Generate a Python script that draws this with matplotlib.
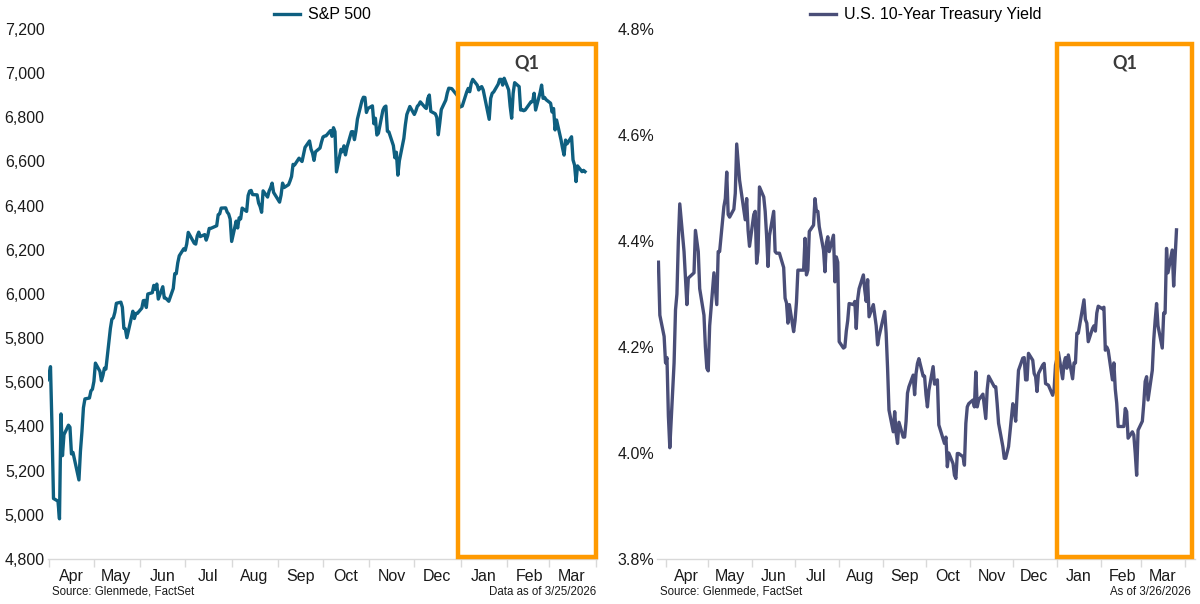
import matplotlib
matplotlib.use("Agg")
import matplotlib.pyplot as plt
import matplotlib.dates as mdates
import matplotlib.transforms as mtransforms
from matplotlib.patches import Rectangle
from matplotlib.ticker import FuncFormatter, MultipleLocator
import numpy as np

# S&P 500 closes
sp_dates = [
    "2025-03-31",
    "2025-04-01", "2025-04-02", "2025-04-03", "2025-04-04", "2025-04-07", "2025-04-08", "2025-04-09", "2025-04-10",
    "2025-04-11", "2025-04-14", "2025-04-15", "2025-04-16", "2025-04-17", "2025-04-21", "2025-04-22", "2025-04-23",
    "2025-04-24", "2025-04-25", "2025-04-28", "2025-04-29", "2025-04-30",
    "2025-05-01", "2025-05-02", "2025-05-05", "2025-05-06", "2025-05-07", "2025-05-08", "2025-05-09", "2025-05-12",
    "2025-05-13", "2025-05-14", "2025-05-15", "2025-05-16", "2025-05-19", "2025-05-20", "2025-05-21", "2025-05-22",
    "2025-05-23", "2025-05-27", "2025-05-28", "2025-05-29", "2025-05-30",
    "2025-06-02", "2025-06-03", "2025-06-04", "2025-06-05", "2025-06-06", "2025-06-09", "2025-06-10", "2025-06-11",
    "2025-06-12", "2025-06-13", "2025-06-16", "2025-06-17", "2025-06-18", "2025-06-20", "2025-06-23", "2025-06-24",
    "2025-06-25", "2025-06-26", "2025-06-27", "2025-06-30",
    "2025-07-01", "2025-07-02", "2025-07-03", "2025-07-07", "2025-07-08", "2025-07-09", "2025-07-10", "2025-07-11",
    "2025-07-14", "2025-07-15", "2025-07-16", "2025-07-17", "2025-07-18", "2025-07-21", "2025-07-22", "2025-07-23",
    "2025-07-24", "2025-07-25", "2025-07-28", "2025-07-29", "2025-07-30", "2025-07-31",
    "2025-08-01", "2025-08-04", "2025-08-05", "2025-08-06", "2025-08-07", "2025-08-08", "2025-08-11", "2025-08-12",
    "2025-08-13", "2025-08-14", "2025-08-15", "2025-08-18", "2025-08-19", "2025-08-20", "2025-08-21", "2025-08-22",
    "2025-08-25", "2025-08-26", "2025-08-27", "2025-08-28", "2025-08-29",
    "2025-09-02", "2025-09-03", "2025-09-04", "2025-09-05", "2025-09-08", "2025-09-09", "2025-09-10", "2025-09-11",
    "2025-09-12", "2025-09-15", "2025-09-16", "2025-09-17", "2025-09-18", "2025-09-19", "2025-09-22", "2025-09-23",
    "2025-09-24", "2025-09-25", "2025-09-26", "2025-09-29", "2025-09-30",
    "2025-10-01", "2025-10-02", "2025-10-03", "2025-10-06", "2025-10-07", "2025-10-08", "2025-10-09", "2025-10-10",
    "2025-10-13", "2025-10-14", "2025-10-15", "2025-10-16", "2025-10-17", "2025-10-20", "2025-10-21", "2025-10-22",
    "2025-10-23", "2025-10-24", "2025-10-27", "2025-10-28", "2025-10-29", "2025-10-30", "2025-10-31",
    "2025-11-03", "2025-11-04", "2025-11-05", "2025-11-06", "2025-11-07", "2025-11-10", "2025-11-11", "2025-11-12",
    "2025-11-13", "2025-11-14", "2025-11-17", "2025-11-18", "2025-11-19", "2025-11-20", "2025-11-21", "2025-11-24",
    "2025-11-25", "2025-11-26", "2025-11-28",
    "2025-12-01", "2025-12-02", "2025-12-03", "2025-12-04", "2025-12-05", "2025-12-08", "2025-12-09", "2025-12-10",
    "2025-12-11", "2025-12-12", "2025-12-15", "2025-12-16", "2025-12-17", "2025-12-18", "2025-12-19", "2025-12-22",
    "2025-12-23", "2025-12-24", "2025-12-26", "2025-12-29", "2025-12-30", "2025-12-31",
    "2026-01-02", "2026-01-05", "2026-01-06", "2026-01-07", "2026-01-08", "2026-01-09", "2026-01-12", "2026-01-13",
    "2026-01-14", "2026-01-15", "2026-01-16", "2026-01-20", "2026-01-21", "2026-01-22", "2026-01-23", "2026-01-26",
    "2026-01-27", "2026-01-28", "2026-01-29", "2026-01-30",
    "2026-02-02", "2026-02-03", "2026-02-04", "2026-02-05", "2026-02-06", "2026-02-09", "2026-02-10", "2026-02-11",
    "2026-02-12", "2026-02-13", "2026-02-17", "2026-02-18", "2026-02-19", "2026-02-20", "2026-02-23", "2026-02-24",
    "2026-02-25", "2026-02-26", "2026-02-27",
    "2026-03-02", "2026-03-03", "2026-03-04", "2026-03-05", "2026-03-06", "2026-03-09", "2026-03-10", "2026-03-11",
    "2026-03-12", "2026-03-13", "2026-03-16", "2026-03-17", "2026-03-18", "2026-03-19", "2026-03-20", "2026-03-23",
    "2026-03-24", "2026-03-25",
]
sp_values = [
    5612,
    5633, 5671, 5397, 5074, 5062, 4982, 5457, 5268, 5363, 5406, 5397, 5276, 5283, 5158, 5288, 5376, 5485, 5525, 5529, 5561, 5569,
    5604, 5687, 5650, 5607, 5631, 5664, 5660, 5844, 5886, 5892, 5917, 5958, 5963, 5940, 5845, 5842, 5802, 5922, 5889, 5912, 5912,
    5936, 5970, 5971, 5939, 6000, 6006, 6039, 6022, 6045, 5977, 6033, 5982, 5981, 5967, 6025, 6092, 6092, 6141, 6173, 6205,
    6198, 6227, 6279, 6230, 6226, 6263, 6280, 6260, 6269, 6244, 6264, 6297, 6297, 6306, 6309, 6359, 6363, 6389, 6390, 6371, 6362, 6339,
    6238, 6330, 6299, 6345, 6340, 6389, 6374, 6446, 6466, 6469, 6450, 6449, 6412, 6396, 6370, 6467, 6439, 6466, 6481, 6502, 6460,
    6416, 6448, 6502, 6482, 6495, 6512, 6532, 6587, 6584, 6615, 6607, 6600, 6631, 6664, 6693, 6656, 6638, 6605, 6644, 6661, 6688,
    6711, 6715, 6716, 6740, 6714, 6753, 6735, 6553, 6655, 6644, 6671, 6630, 6664, 6735, 6735, 6699, 6738, 6792, 6875, 6891, 6890, 6822, 6840,
    6852, 6771, 6796, 6720, 6728, 6832, 6846, 6851, 6737, 6734, 6672, 6617, 6642, 6538, 6603, 6705, 6766, 6813, 6849,
    6813, 6829, 6850, 6857, 6870, 6846, 6840, 6886, 6901, 6827, 6816, 6800, 6721, 6775, 6835, 6878, 6910, 6932, 6930, 6905, 6896, 6845,
    6851, 6915, 6931, 6916, 6954, 6972, 6946, 6924, 6935, 6939, 6924, 6791, 6886, 6909, 6915, 6950, 6972, 6972, 6946, 6977,
    6924, 6850, 6796, 6909, 6957, 6939, 6833, 6835, 6830, 6833, 6871, 6871, 6909, 6833, 6912, 6946, 6886, 6890, 6880,
    6864, 6824, 6840, 6743, 6788, 6697, 6660, 6629, 6697, 6680, 6712, 6607, 6584, 6509, 6580, 6554, 6560, 6554,
]

# U.S. 10-year Treasury yield (%)
ty_dates = [
    "2025-03-27", "2025-03-28", "2025-03-31",
    "2025-04-01", "2025-04-02", "2025-04-03", "2025-04-04", "2025-04-07", "2025-04-08", "2025-04-09", "2025-04-10",
    "2025-04-11", "2025-04-14", "2025-04-15", "2025-04-16", "2025-04-17", "2025-04-21", "2025-04-22", "2025-04-23",
    "2025-04-24", "2025-04-25", "2025-04-28", "2025-04-29", "2025-04-30",
    "2025-05-01", "2025-05-02", "2025-05-05", "2025-05-06", "2025-05-07", "2025-05-08", "2025-05-09", "2025-05-12",
    "2025-05-13", "2025-05-14", "2025-05-15", "2025-05-16", "2025-05-19", "2025-05-20", "2025-05-21", "2025-05-22",
    "2025-05-23", "2025-05-27", "2025-05-28", "2025-05-29", "2025-05-30",
    "2025-06-02", "2025-06-03", "2025-06-04", "2025-06-05", "2025-06-06", "2025-06-09", "2025-06-10", "2025-06-11",
    "2025-06-12", "2025-06-13", "2025-06-16", "2025-06-17", "2025-06-18", "2025-06-20", "2025-06-23", "2025-06-24",
    "2025-06-25", "2025-06-26", "2025-06-27", "2025-06-30",
    "2025-07-01", "2025-07-02", "2025-07-03", "2025-07-07", "2025-07-08", "2025-07-09", "2025-07-10", "2025-07-11",
    "2025-07-14", "2025-07-15", "2025-07-16", "2025-07-17", "2025-07-18", "2025-07-21", "2025-07-22", "2025-07-23",
    "2025-07-24", "2025-07-25", "2025-07-28", "2025-07-29", "2025-07-30", "2025-07-31",
    "2025-08-01", "2025-08-04", "2025-08-05", "2025-08-06", "2025-08-07", "2025-08-08", "2025-08-11", "2025-08-12",
    "2025-08-13", "2025-08-14", "2025-08-15", "2025-08-18", "2025-08-19", "2025-08-20", "2025-08-21", "2025-08-22",
    "2025-08-25", "2025-08-26", "2025-08-27", "2025-08-28", "2025-08-29",
    "2025-09-02", "2025-09-03", "2025-09-04", "2025-09-05", "2025-09-08", "2025-09-09", "2025-09-10", "2025-09-11",
    "2025-09-12", "2025-09-15", "2025-09-16", "2025-09-17", "2025-09-18", "2025-09-19", "2025-09-22", "2025-09-23",
    "2025-09-24", "2025-09-25", "2025-09-26", "2025-09-29", "2025-09-30",
    "2025-10-01", "2025-10-02", "2025-10-03", "2025-10-06", "2025-10-07", "2025-10-08", "2025-10-09", "2025-10-10",
    "2025-10-14", "2025-10-15", "2025-10-16", "2025-10-17", "2025-10-20", "2025-10-21", "2025-10-22", "2025-10-23",
    "2025-10-24", "2025-10-27", "2025-10-28", "2025-10-29", "2025-10-30", "2025-10-31",
    "2025-11-03", "2025-11-04", "2025-11-05", "2025-11-06", "2025-11-07", "2025-11-10", "2025-11-12", "2025-11-13",
    "2025-11-14", "2025-11-17", "2025-11-18", "2025-11-19", "2025-11-20", "2025-11-21", "2025-11-24", "2025-11-25",
    "2025-11-26", "2025-11-28",
    "2025-12-01", "2025-12-02", "2025-12-03", "2025-12-04", "2025-12-05", "2025-12-08", "2025-12-09", "2025-12-10",
    "2025-12-11", "2025-12-12", "2025-12-15", "2025-12-16", "2025-12-17", "2025-12-18", "2025-12-19", "2025-12-22",
    "2025-12-23", "2025-12-24", "2025-12-26", "2025-12-29", "2025-12-30", "2025-12-31",
    "2026-01-02", "2026-01-05", "2026-01-06", "2026-01-07", "2026-01-08", "2026-01-09", "2026-01-12", "2026-01-13",
    "2026-01-14", "2026-01-15", "2026-01-16", "2026-01-20", "2026-01-21", "2026-01-22", "2026-01-23", "2026-01-26",
    "2026-01-27", "2026-01-28", "2026-01-29", "2026-01-30",
    "2026-02-02", "2026-02-03", "2026-02-04", "2026-02-05", "2026-02-06", "2026-02-09", "2026-02-10", "2026-02-11",
    "2026-02-12", "2026-02-13", "2026-02-17", "2026-02-18", "2026-02-19", "2026-02-20", "2026-02-23", "2026-02-24",
    "2026-02-25", "2026-02-26", "2026-02-27",
    "2026-03-02", "2026-03-03", "2026-03-04", "2026-03-05", "2026-03-06", "2026-03-09", "2026-03-10", "2026-03-11",
    "2026-03-12", "2026-03-13", "2026-03-16", "2026-03-17", "2026-03-18", "2026-03-19", "2026-03-20", "2026-03-23",
    "2026-03-24", "2026-03-25", "2026-03-26",
]
ty_values = [
    4.36, 4.26, 4.22,
    4.17, 4.18, 4.07, 4.01, 4.17, 4.27, 4.30, 4.40, 4.47, 4.38, 4.33, 4.28, 4.33, 4.34, 4.42, 4.40, 4.38, 4.31, 4.26, 4.20, 4.16,
    4.155, 4.24, 4.34, 4.31, 4.28, 4.38, 4.38, 4.465, 4.48, 4.53, 4.45, 4.445, 4.46, 4.49, 4.583, 4.55, 4.515, 4.44, 4.48, 4.42, 4.39,
    4.45, 4.456, 4.358, 4.38, 4.502, 4.483, 4.456, 4.41, 4.352, 4.41, 4.456, 4.38, 4.377, 4.377, 4.35, 4.292, 4.283, 4.245, 4.28, 4.229,
    4.25, 4.285, 4.345, 4.345, 4.405, 4.336, 4.345, 4.418, 4.43, 4.48, 4.456, 4.456, 4.427, 4.383, 4.342, 4.396, 4.408, 4.38, 4.411,
    4.323, 4.37, 4.36,
    4.21, 4.198, 4.20, 4.23, 4.25, 4.282, 4.28, 4.286, 4.235, 4.29, 4.31, 4.336, 4.307, 4.286, 4.327, 4.257, 4.28, 4.26, 4.24, 4.204, 4.22,
    4.267, 4.226, 4.16, 4.081, 4.04, 4.078, 4.037, 4.018, 4.058, 4.03, 4.03, 4.06, 4.113, 4.125, 4.147, 4.11, 4.15, 4.169, 4.178,
    4.145, 4.145,
    4.11, 4.087, 4.118, 4.163, 4.13, 4.131, 4.138, 4.053, 4.018, 4.03, 3.974, 4.00, 3.98, 3.958, 3.952, 3.999, 3.999, 3.993, 3.977,
    4.056, 4.087, 4.093,
    4.10, 4.087, 4.153, 4.087, 4.10, 4.111, 4.065, 4.12, 4.145, 4.13, 4.125, 4.125, 4.093, 4.056, 4.012, 3.99, 3.99, 4.012,
    4.093, 4.08, 4.06, 4.11, 4.156, 4.179, 4.18, 4.138, 4.138, 4.188, 4.175, 4.15, 4.144, 4.116, 4.15, 4.166, 4.169, 4.131, 4.128,
    4.109, 4.12, 4.166,
    4.19, 4.14, 4.17, 4.18, 4.16, 4.185, 4.14, 4.17, 4.17, 4.226, 4.226, 4.289, 4.252, 4.245, 4.21, 4.235, 4.24, 4.23, 4.264, 4.277,
    4.272, 4.275, 4.194, 4.20, 4.194, 4.138, 4.17, 4.12, 4.094, 4.05, 4.05, 4.084, 4.078, 4.028, 4.04, 4.034, 4.00, 3.958, 4.043,
    4.06, 4.093, 4.135, 4.144, 4.10, 4.156, 4.213, 4.25, 4.282, 4.24, 4.198, 4.264, 4.264, 4.386, 4.34, 4.383, 4.315, 4.37, 4.421,
]

assert len(sp_dates) == len(sp_values)
assert len(ty_dates) == len(ty_values)

SP_COLOR = "#0E5F80"
TY_COLOR = "#4A4E78"
ORANGE = "#FF9A00"
TEXT = "#1a1a1a"
AXIS_GREY = "#d9d9d9"
FONT = "Liberation Sans"

plt.rcParams["font.family"] = FONT

fig = plt.figure(figsize=(12, 6.04), dpi=100)
ax_sp = fig.add_axes([47.5 / 1200, 45 / 604, 549.5 / 1200, 530 / 604])
ax_ty = fig.add_axes([657 / 1200, 45 / 604, 538 / 1200, 530 / 604])


def style_axis(ax, xlim, q1_span):
    ax.set_xlim(np.datetime64(xlim[0]), np.datetime64(xlim[1]))
    for side in ("top", "right", "left"):
        ax.spines[side].set_visible(False)
    ax.spines["bottom"].set_color(AXIS_GREY)
    ax.spines["bottom"].set_linewidth(1.0)
    ax.xaxis.set_major_locator(mdates.MonthLocator(bymonthday=1))
    ax.xaxis.set_major_formatter(plt.NullFormatter())
    ax.xaxis.set_minor_locator(mdates.MonthLocator(bymonthday=16))
    ax.xaxis.set_minor_formatter(mdates.DateFormatter("%b"))
    ax.tick_params(axis="x", which="major", length=6, width=1, color=AXIS_GREY, direction="out")
    ax.tick_params(axis="x", which="minor", length=0, pad=7, labelsize=11.5, labelcolor=TEXT)
    ax.tick_params(axis="y", length=0, labelsize=11.5, labelcolor=TEXT)

    # Q1 highlight box
    trans = mtransforms.blended_transform_factory(ax.transData, ax.transAxes)
    x0 = mdates.date2num(np.datetime64(q1_span[0]))
    x1 = mdates.date2num(np.datetime64(q1_span[1]))
    ax.add_patch(Rectangle((x0, 0.004), x1 - x0, 0.968, transform=trans, fill=False,
                           edgecolor=ORANGE, linewidth=3.2, clip_on=False, zorder=5))
    ax.text((x0 + x1) / 2, 0.936, "Q1", transform=trans, ha="center", va="center",
            fontsize=13, fontweight="bold", color="#3a3a3a", family="Lato")


# left: S&P 500
ax_sp.plot(np.array(sp_dates, dtype="datetime64[D]"), sp_values, color=SP_COLOR, linewidth=2.4,
           label="S&P 500", solid_joinstyle="round")
ax_sp.set_ylim(4800, 7200)
ax_sp.yaxis.set_major_locator(MultipleLocator(200))
ax_sp.yaxis.set_major_formatter(FuncFormatter(lambda v, p: f"{v:,.0f}"))
ax_sp.tick_params(axis="y", pad=2)
style_axis(ax_sp, ("2025-03-31", "2026-04-02"), ("2025-12-30", "2026-04-01"))

# right: 10-year yield
ax_ty.plot(np.array(ty_dates, dtype="datetime64[D]"), ty_values, color=TY_COLOR, linewidth=2.4,
           label="U.S. 10-Year Treasury Yield", solid_joinstyle="round")
ax_ty.set_ylim(3.8, 4.8)
ax_ty.yaxis.set_major_locator(MultipleLocator(0.2))
ax_ty.yaxis.set_major_formatter(FuncFormatter(lambda v, p: f"{v:.1f}%"))
ax_ty.tick_params(axis="y", pad=2)
style_axis(ax_ty, ("2025-03-26", "2026-04-08"), ("2026-01-01", "2026-04-06"))

for ax in (ax_sp, ax_ty):
    ax.legend(loc="center", bbox_to_anchor=(0.5, 1.027), frameon=False, fontsize=11.5,
              handlelength=1.6, handletextpad=0.5, borderaxespad=0)

# footnotes
fig.text(52 / 1200, 12 / 604, "Source: Glenmede, FactSet", fontsize=8.3, color=TEXT, va="center")
fig.text(596 / 1200, 12 / 604, "Data as of 3/25/2026", fontsize=8.3, color=TEXT, va="center", ha="right")
fig.text(660 / 1200, 12 / 604, "Source: Glenmede, FactSet", fontsize=8.3, color=TEXT, va="center")
fig.text(1191 / 1200, 12 / 604, "As of 3/26/2026", fontsize=8.3, color=TEXT, va="center", ha="right")

fig.savefig("out.png", dpi=100)
